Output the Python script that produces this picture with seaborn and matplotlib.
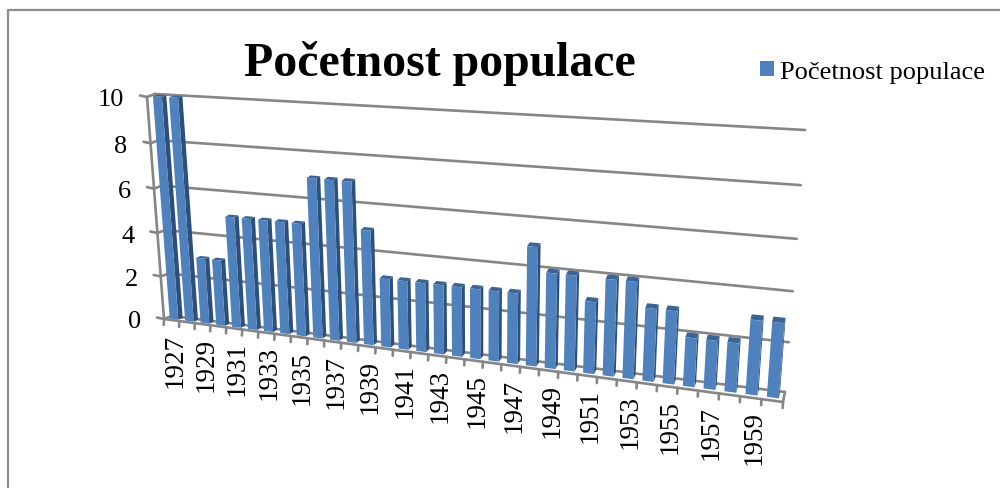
import numpy as np
import pandas as pd
import matplotlib
matplotlib.use("Agg")
import matplotlib.pyplot as plt
from matplotlib.lines import Line2D
from matplotlib.patches import Polygon
from matplotlib.transforms import Transform, IdentityTransform
import seaborn as sns

years = list(range(1927, 1961))
values = [10, 10, 3, 3, 5, 5, 5, 5, 5, 7, 7, 7, 5, 3, 3, 3, 3, 3, 3, 3, 3,
          5, 4, 4, 3, 4, 4, 3, 3, 2, 2, 2, 3, 3]
y_ticks = [0, 2, 4, 6, 8, 10]
series_name = "Početnost populace"
title_text = "Početnost populace"

W, H = 1000, 489
sns.set_theme(style="white")
plt.rcParams["font.family"] = ["Liberation Serif", "DejaVu Serif"]

# wall corners in image pixels: bottom-left, bottom-right, top-right, top-left
FRONT = np.array([(164, 320), (783, 403), (803, 141), (147, 98)], float)
BACK = np.array([(172, 317), (785, 393), (805, 131), (155, 95)], float)
N = len(years)
SRC = np.array([(-0.5, 0), (N - 0.5, 0), (N - 0.5, 10), (-0.5, 10)], float)


def homography(src, dst):
    A, b = [], []
    for (x, y), (px, py) in zip(src, dst):
        A.append([x, y, 1, 0, 0, 0, -x * px, -y * px]); b.append(px)
        A.append([0, 0, 0, x, y, 1, -x * py, -y * py]); b.append(py)
    return np.append(np.linalg.solve(np.array(A), np.array(b)), 1).reshape(3, 3)


class Persp(Transform):
    input_dims = output_dims = 2
    is_affine = False

    def __init__(self, depth):
        super().__init__()
        self.M = homography(SRC, FRONT + (BACK - FRONT) * depth)

    def transform_non_affine(self, xy):
        xy = np.asarray(xy, float)
        h = np.column_stack([xy, np.ones(len(xy))]) @ self.M.T
        return np.column_stack([h[:, 0] / h[:, 2], H - h[:, 1] / h[:, 2]])


def P(x, y, depth):
    return Persp(depth).transform_non_affine(np.array([[x, y]]))[0]


fig = plt.figure(figsize=(W / 100, H / 100), dpi=100)
ax = fig.add_axes([0, 0, 1, 1])
df = pd.DataFrame({"year": years, "value": values})
sns.barplot(data=df, x="year", y="value", color="#4F81BD", saturation=1, width=0.56,
            ax=ax, label=series_name, legend=False, edgecolor="none", linewidth=0)

GRID = "#868686"
LW = 1.9
ident = IdentityTransform()
D0, D1 = 0.3, 0.85
front_tf = Persp(D0)

xmin, xmax = -0.5, N - 0.5
# back-wall gridlines, side wall and axis stubs
for v in y_ticks:
    ax.plot([xmin, xmax], [v, v], transform=Persp(1), color=GRID, lw=LW, zorder=0.5,
            clip_on=False)
    a = P(xmin, v, 1); b = P(xmin, v, 0); c = b + np.array([-7, 1.5])
    ax.add_line(Line2D([a[0], b[0], c[0]], [a[1], b[1], c[1]], transform=ident, color=GRID,
                       lw=LW, zorder=0.5, clip_on=False))
    ax.text(c[0] - 16, c[1] - 4, str(v), transform=ident, ha="right", va="center", fontsize=19,
            color="black")
for d in (0, 1):
    ax.plot([xmin, xmin], [0, 10], transform=Persp(d), color=GRID,
            lw=LW, zorder=0.5, clip_on=False)
ax.plot([xmin, xmax], [0, 0], transform=Persp(0), color=GRID, lw=LW, zorder=0.5, clip_on=False)
a, b = P(xmax, 0, 0), P(xmax, 0, 1)
ax.add_line(Line2D([a[0], b[0]], [a[1], b[1]], transform=ident, color=GRID, lw=LW, zorder=0.5,
                   clip_on=False))
# x ticks and labels
for i in range(N + 1):
    t = P(xmin + i, 0, 0)
    ax.add_line(Line2D([t[0], t[0] - 0.3], [t[1], t[1] - 6], transform=ident, color=GRID,
                       lw=LW, zorder=0.5, clip_on=False))
for i in range(0, N, 2):
    t = P(i, 0, 0)
    ax.text(t[0] + 3, t[1] - 12.5, str(years[i]), transform=ident, rotation=90, ha="center",
            va="top", fontsize=19.5, color="black")

# project every seaborn bar and add its side and top faces
for patch in list(ax.patches):
    x0, y0 = patch.get_x(), patch.get_y()
    x1, h = x0 + patch.get_width(), patch.get_height()
    patch.set_transform(front_tf)
    patch.set_clip_on(False)
    patch.set_zorder(1.2)
    side = [P(x1, y0, D0), P(x1, y0, D1), P(x1, h, D1), P(x1, h, D0)]
    top = [P(x0, h, D0), P(x1, h, D0), P(x1, h, D1), P(x0, h, D1)]
    ax.add_patch(Polygon(side, closed=True, transform=ident, fc="#2C4F7C", ec="none",
                         zorder=1.1, clip_on=False))
    ax.add_patch(Polygon(top, closed=True, transform=ident, fc="#3A6496", ec="none",
                         zorder=1.1, clip_on=False))

ax.set_xlim(xmin, xmax)
ax.set_ylim(0, 10)
ax.set_axis_off()

fig.text(440 / W, 1 - 63 / H, title_text, ha="center", va="center", fontsize=34.4,
         fontweight="bold", color="black")
ax.legend(loc="center left", bbox_to_anchor=(760 / W, 1 - 73 / H),
          bbox_transform=fig.transFigure, frameon=False, fontsize=19, borderpad=0,
          borderaxespad=0, handlelength=0.53, handleheight=0.53, handletextpad=0.23,
          labelcolor="black")

# chart area frame
fig.add_artist(Line2D([7.5 / W, 7.5 / W, 1], [0, 1 - 10.5 / H, 1 - 10.5 / H],
                      transform=fig.transFigure, color="#8C8C8C", lw=1.6))

fig.savefig("out.png", dpi=100)
